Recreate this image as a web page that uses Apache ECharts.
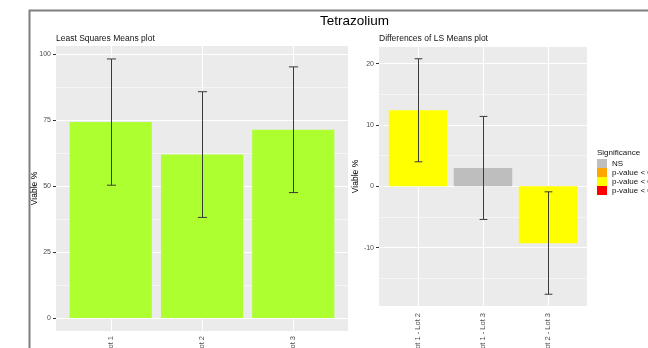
<!DOCTYPE html>
<html><head><meta charset="utf-8">
<script src="https://cdn.jsdelivr.net/npm/echarts@6/dist/echarts.min.js"></script>
<style>html,body{margin:0;padding:0;background:#fff}#c{width:648px;height:348px}</style>
</head><body><div id="c"></div>
<script>
// ---- data ----
const lots = ['Lot 1', 'Lot 2', 'Lot 3'];
const lsMeans = [74.2, 61.9, 71.3];
const lsLower = [50.3, 38.1, 47.5];
const lsUpper = [98.1, 85.7, 95.1];
const leftTicks = [0, 25, 50, 75, 100];
const leftMinor = [12.5, 37.5, 62.5, 87.5];

const contrasts = ['Lot 1 - Lot 2', 'Lot 1 - Lot 3', 'Lot 2 - Lot 3'];
const diffs = [12.4, 3.0, -9.3];
const diffLower = [4.0, -5.4, -17.6];
const diffUpper = [20.8, 11.4, -0.9];
const diffSignif = ['p-value < 0.05', 'NS', 'p-value < 0.05'];
const rightTicks = [-10, 0, 10, 20];
const rightMinor = [-15, -5, 5, 15];

const sigLevels = ['NS', 'p-value < 0.1', 'p-value < 0.05', 'p-value < 0.01'];
const sigColors = ['#BEBEBE', '#FFA500', '#FFFF00', '#FF0000'];

// ---- helpers ----
const FONT = "'Liberation Sans', Arial, sans-serif";
const catPos = arr => arr.map((_, i) => i + 1);
function expand(lo, hi) { const r = hi - lo; return [lo - 0.05 * r, hi + 0.05 * r]; }
const leftExt = expand(Math.min(0, ...lsLower), Math.max(0, ...lsUpper));
const rightExt = expand(Math.min(0, ...diffLower), Math.max(0, ...diffUpper));

function xAxis(gi, cats, margin) {
  return {
    type: 'value', gridIndex: gi, min: 0.4, max: cats.length + 0.6,
    axisLine: { show: false },
    axisTick: { show: true, customValues: catPos(cats), length: 3, lineStyle: { color: '#333', width: 1 } },
    axisLabel: { customValues: catPos(cats), formatter: v => cats[Math.round(v) - 1], rotate: 90,
      fontSize: 7.5, color: '#4D4D4D', fontFamily: FONT, margin: margin },
    splitLine: { show: false }
  };
}
function yAxis(gi, ext, ticks, gap) {
  return {
    type: 'value', gridIndex: gi, min: ext[0], max: ext[1],
    name: 'Viable %', nameLocation: 'middle', nameGap: gap, nameMoveOverlap: false,
    nameTextStyle: { fontSize: 8.5, color: '#000', fontFamily: FONT },
    axisLine: { show: false },
    axisTick: { show: true, customValues: ticks, length: 3, lineStyle: { color: '#333', width: 1 } },
    axisLabel: { customValues: ticks, fontSize: 7, color: '#4D4D4D', fontFamily: FONT, margin: 5 },
    splitLine: { show: false }
  };
}
function gridLines(gi, majors, minors, cats) {
  const d = [];
  minors.forEach(v => d.push({ yAxis: v, lineStyle: { color: '#fff', width: 0.5, type: 'solid' } }));
  majors.forEach(v => d.push({ yAxis: v, lineStyle: { color: '#fff', width: 1.1, type: 'solid' } }));
  catPos(cats).forEach(v => d.push({ xAxis: v, lineStyle: { color: '#fff', width: 1.1, type: 'solid' } }));
  return {
    type: 'line', xAxisIndex: gi, yAxisIndex: gi, data: [], silent: true, z: 1,
    markLine: { silent: true, z: 1, symbol: ['none', 'none'], label: { show: false }, animation: false, data: d }
  };
}
function errorBars(gi, lo, hi, capUnits) {
  return {
    type: 'custom', xAxisIndex: gi, yAxisIndex: gi, z: 5, silent: true,
    data: lo.map((v, i) => [i + 1, v, hi[i]]),
    encode: { x: 0, y: [1, 2] },
    renderItem: function (params, api) {
      const x = api.value(0);
      const top = api.coord([x, api.value(2)]);
      const bot = api.coord([x, api.value(1)]);
      const half = api.size([capUnits, 0])[0] / 2;
      const cx = Math.round(top[0]) + 0.5;
      const style = { stroke: '#3a3a3a', lineWidth: 1 };
      return { type: 'group', children: [
        { type: 'line', shape: { x1: cx, y1: top[1], x2: cx, y2: bot[1] }, style },
        { type: 'line', shape: { x1: cx - half, y1: top[1], x2: cx + half, y2: top[1] }, style },
        { type: 'line', shape: { x1: cx - half, y1: bot[1], x2: cx + half, y2: bot[1] }, style }
      ] };
    }
  };
}

const series = [
  gridLines(0, leftTicks, leftMinor, lots),
  gridLines(1, rightTicks, rightMinor, contrasts),
  {
    type: 'bar', xAxisIndex: 0, yAxisIndex: 0, z: 2, barWidth: '90%',
    itemStyle: { color: '#ADFF2F' },
    data: lots.map((_, i) => [i + 1, lsMeans[i]])
  },
  errorBars(0, lsLower, lsUpper, 0.1)
];
sigLevels.forEach((lvl, k) => {
  series.push({
    type: 'bar', name: lvl, xAxisIndex: 1, yAxisIndex: 1, z: 2, barWidth: '90%', barGap: '-100%',
    itemStyle: { color: sigColors[k] },
    data: contrasts.map((_, i) => [i + 1, diffSignif[i] === lvl ? diffs[i] : '-'])
  });
});
series.push(errorBars(1, diffLower, diffUpper, 0.12));

const chart = echarts.init(document.getElementById('c'), null, { renderer: 'canvas' });
chart.setOption({
  animation: false,
  backgroundColor: '#fff',
  grid: [
    { left: 56, top: 46, width: 292, height: 285, show: true, backgroundColor: '#EBEBEB', borderWidth: 0, containLabel: false, outerBoundsMode: 'none' },
    { left: 379, top: 47, width: 208, height: 259, show: true, backgroundColor: '#EBEBEB', borderWidth: 0, containLabel: false, outerBoundsMode: 'none' }
  ],
  xAxis: [xAxis(0, lots, 5), xAxis(1, contrasts, 7)],
  yAxis: [yAxis(0, leftExt, leftTicks, 17), yAxis(1, rightExt, rightTicks, 19)],
  legend: {
    orient: 'vertical', left: 597, top: 159, padding: 0, itemWidth: 10, itemHeight: 9, itemGap: 0,
    icon: 'rect', selectedMode: false, data: sigLevels,
    textStyle: { fontSize: 8, color: '#111', fontFamily: FONT, padding: [0, 0, 0, 0] }
  },
  graphic: [
    { type: 'rect', silent: true, shape: { x: 29.5, y: 10.5, width: 800, height: 500 },
      style: { fill: 'none', stroke: '#7f7f7f', lineWidth: 2 } },
    { type: 'text', x: 354.5, y: 21, style: { text: 'Tetrazolium', font: "13.5px " + FONT, fill: '#000', textAlign: 'center', textVerticalAlign: 'middle' } },
    { type: 'text', x: 56, y: 38.5, style: { text: 'Least Squares Means plot', font: "8.5px " + FONT, fill: '#111', textAlign: 'left', textVerticalAlign: 'middle' } },
    { type: 'text', x: 379, y: 38.5, style: { text: 'Differences of LS Means plot', font: "8.5px " + FONT, fill: '#111', textAlign: 'left', textVerticalAlign: 'middle' } },
    { type: 'text', x: 597, y: 153, style: { text: 'Significance', font: "8px " + FONT, fill: '#111', textAlign: 'left', textVerticalAlign: 'middle' } }
  ],
  series: series
});
</script>
</body></html>
